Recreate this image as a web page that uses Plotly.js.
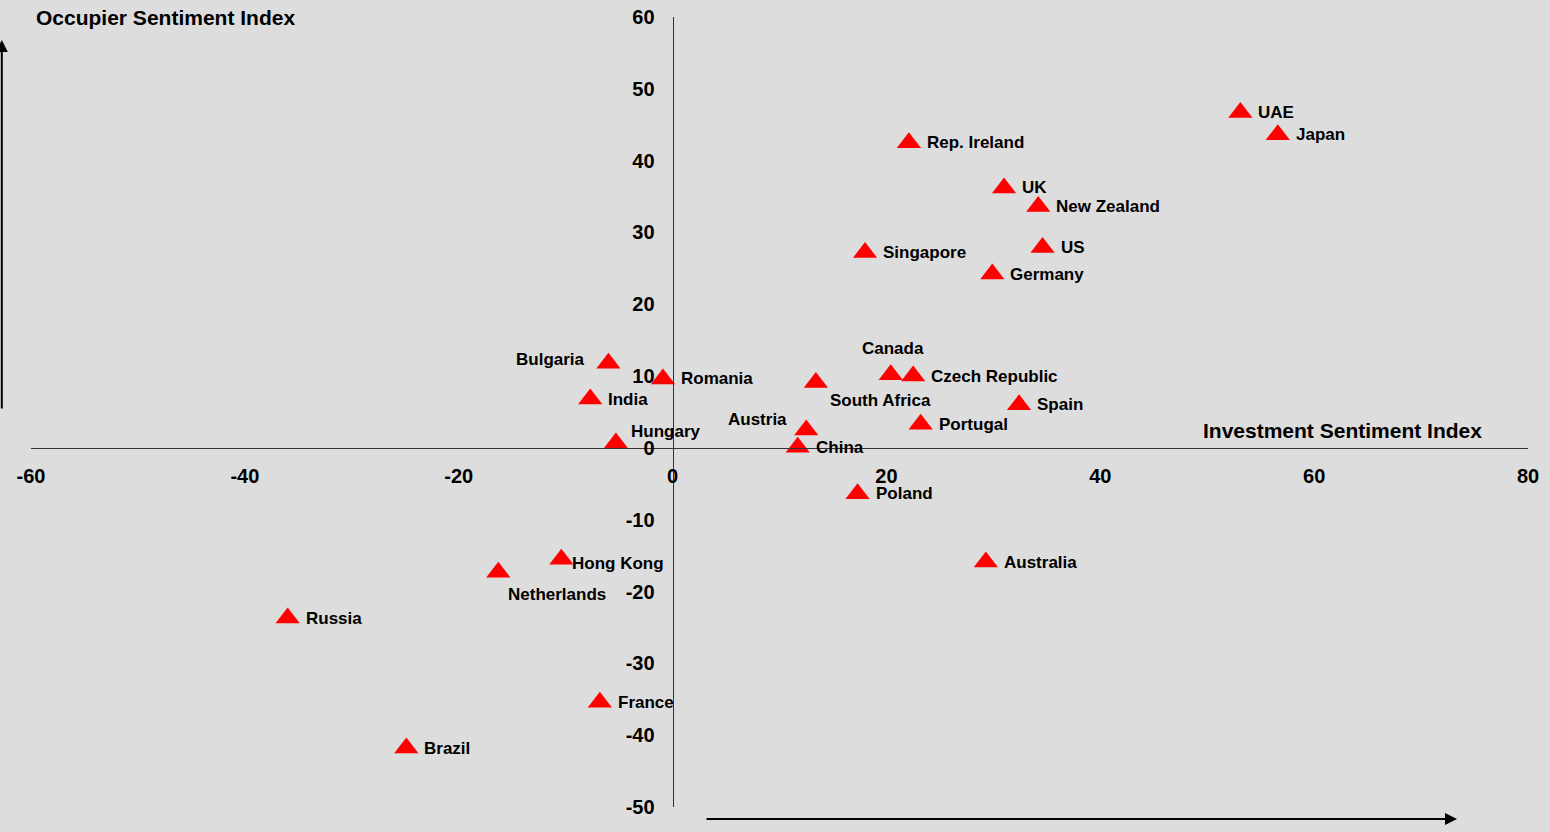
<!DOCTYPE html>
<html>
<head>
<meta charset="utf-8">
<script src="https://cdn.plot.ly/plotly-3.0.1.min.js"></script>
<style>
  html, body { margin: 0; padding: 0; background: #DDDDDD; }
  #chart { width: 1550px; height: 832px; }
</style>
</head>
<body>
<div id="chart"></div>
<script>
// ---- data ----
const countries = ["UAE", "Japan", "Rep. Ireland", "UK", "New Zealand", "US", "Singapore", "Germany",
  "Bulgaria", "Romania", "India", "Canada", "Czech Republic", "South Africa", "Spain", "Portugal",
  "Austria", "Hungary", "China", "Poland", "Hong Kong", "Netherlands", "Australia", "Russia", "France", "Brazil"];
const investment = [53.1, 56.6, 22.1, 31.0, 34.2, 34.6, 18.0, 29.9,
  -6.0, -0.9, -7.7, 20.4, 22.5, 13.4, 32.4, 23.2,
  12.5, -5.3, 11.7, 17.3, -10.4, -16.3, 29.3, -36.0, -6.8, -24.9];
const occupier = [46.7, 43.6, 42.5, 36.2, 33.6, 27.9, 27.2, 24.2,
  11.8, 9.6, 6.8, 10.2, 10.0, 9.1, 6.0, 3.3,
  2.5, 0.7, 0.1, -6.4, -15.5, -17.3, -15.9, -23.7, -35.4, -41.8];
// label placement codes (r = right, l = left, t = top, br = bottom-right, tl = top-left, tr = top-right, rb = right-low, nb = below-right)
const labelPlace = ["r", "r", "r", "r", "r", "r", "r", "r",
  "l", "r", "r", "t", "r", "br", "r", "r",
  "tl", "tr", "r", "r", "rb", "nb", "r", "r", "r", "r"];
const xTicks = [-60, -40, -20, 0, 20, 40, 60, 80];
const yTicks = [-50, -40, -30, -20, -10, 0, 10, 20, 30, 40, 50, 60];
const xTitle = "Investment Sentiment Index";
const yTitle = "Occupier Sentiment Index";

// ---- styles ----
const FONT = 'Arial, "Liberation Sans", sans-serif';
const placeStyle = {
  r:  {xanchor: "left",   yanchor: "middle", xshift: 16,  yshift: 0},
  rb: {xanchor: "left",   yanchor: "middle", xshift: 9,   yshift: -4},
  l:  {xanchor: "right",  yanchor: "middle", xshift: -21, yshift: 4},
  t:  {xanchor: "center", yanchor: "middle", xshift: 2,   yshift: 26},
  br: {xanchor: "left",   yanchor: "middle", xshift: 12,  yshift: -18},
  nb: {xanchor: "left",   yanchor: "middle", xshift: 8,   yshift: -22},
  tl: {xanchor: "right",  yanchor: "middle", xshift: -17, yshift: 10},
  tr: {xanchor: "left",   yanchor: "middle", xshift: 13,  yshift: 11}
};

const labelAnns = countries.map((c, i) => Object.assign({
  x: investment[i], y: occupier[i], xref: "x", yref: "y",
  text: "<b>" + c + "</b>", showarrow: false,
  font: {family: FONT, size: 17, color: "#000000"}
}, placeStyle[labelPlace[i]]));

const trace = {
  type: "scatter", mode: "markers",
  x: investment, y: occupier, text: countries,
  marker: {symbol: "triangle-up", size: 21, color: "#FF0000"},
  hoverinfo: "text+x+y", cliponaxis: false
};

const axisCommon = {
  showgrid: false, zeroline: false, showline: true,
  linecolor: "#333333", linewidth: 1,
  ticks: "", anchor: "free",
  tickfont: {family: FONT, size: 20, color: "#000000", weight: 700}
};

const layout = {
  width: 1550, height: 832,
  margin: {l: 31, r: 22, t: 17, b: 25, pad: 0},
  paper_bgcolor: "#DDDDDD", plot_bgcolor: "#DDDDDD",
  showlegend: false,
  xaxis: Object.assign({}, axisCommon, {
    range: [-60, 80], tickvals: xTicks, ticktext: xTicks.map(String),
    position: 50 / 110, ticklabelstandoff: 10
  }),
  yaxis: Object.assign({}, axisCommon, {
    range: [-50, 60], tickvals: yTicks, ticktext: yTicks.map(String),
    position: 60 / 140, ticklabelstandoff: 14
  }),
  annotations: labelAnns.concat([
    {xref: "paper", yref: "paper", x: 0.002, y: 1.0, xanchor: "left", yanchor: "middle",
     text: "<b>" + yTitle + "</b>", showarrow: false,
     font: {family: FONT, size: 21, color: "#000000"}},
    {xref: "paper", yref: "paper", x: 0.7815, y: 0.4772, xanchor: "left", yanchor: "middle",
     text: "<b>" + xTitle + "</b>", showarrow: false,
     font: {family: FONT, size: 21, color: "#000000"}},
    // vertical arrow on the left
    {xref: "paper", yref: "paper", x: -0.0195, y: (807 - 40) / 790, ax: 0, ay: 370,
     text: "", showarrow: true, arrowhead: 2, arrowsize: 1.2, arrowwidth: 2, arrowcolor: "#000000"},
    // horizontal arrow at bottom
    {xref: "paper", yref: "paper", x: (1457 - 31) / 1497, y: (807 - 819) / 790, ax: -752, ay: 0,
     text: "", showarrow: true, arrowhead: 2, arrowsize: 1.2, arrowwidth: 2, arrowcolor: "#000000"}
  ])
};

Plotly.newPlot("chart", [trace], layout, {displayModeBar: false, staticPlot: true});
</script>
</body>
</html>
